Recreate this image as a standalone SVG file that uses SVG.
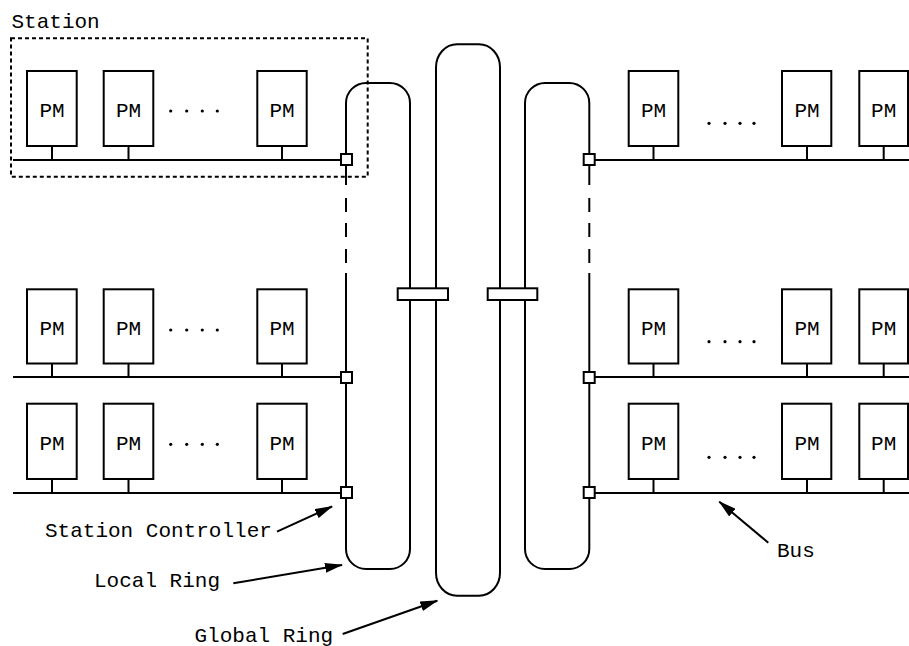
<svg xmlns="http://www.w3.org/2000/svg" width="909" height="646" viewBox="0 0 909 646">
<style>
.pm{fill:#fff;stroke:#000;stroke-width:2}
.ln{fill:none;stroke:#000;stroke-width:2}
.sq{fill:#fff;stroke:#000;stroke-width:2}
.t{font-family:"Liberation Mono","Courier New",monospace;font-size:21px;fill:#000}
.c{text-anchor:middle}
.dot{fill:#000}
</style>
<defs>
<marker id="ah" viewBox="0 0 18 10" refX="17" refY="5" markerWidth="18" markerHeight="10" markerUnits="userSpaceOnUse" orient="auto">
<path d="M0,0 L18,5 L0,10 z" fill="#000"/>
</marker>
</defs>
<rect width="909" height="646" fill="#fff"/>

<g id="station">
<rect x="11" y="38.3" width="356.7" height="138.4" fill="none" stroke="#000" stroke-width="2" stroke-dasharray="4,3"/>
<text class="t" x="11.5" y="28">Station</text>
</g>

<g id="connectors">
<!-- buses -->
<line class="ln" x1="13" y1="160" x2="341" y2="160"/>
<line class="ln" x1="13" y1="377" x2="341" y2="377"/>
<line class="ln" x1="13" y1="493" x2="341" y2="493"/>
<line class="ln" x1="595" y1="160" x2="909" y2="160"/>
<line class="ln" x1="595" y1="377" x2="909" y2="377"/>
<line class="ln" x1="595" y1="493" x2="909" y2="493"/>
<!-- stubs left -->
<path class="ln" d="M52,146 V160 M128.5,146 V160 M282,146 V160 M52,363.5 V377 M128.5,363.5 V377 M282,363.5 V377 M52,479 V493 M128.5,479 V493 M282,479 V493"/>
<!-- stubs right -->
<path class="ln" d="M653.5,146 V160 M807,146 V160 M883.7,146 V160 M653.5,363.5 V377 M807,363.5 V377 M883.7,363.5 V377 M653.5,479 V493 M807,479 V493 M883.7,479 V493"/>
<!-- left local ring -->
<path class="ln" d="M346,185 L346,103 A20,20 0 0 1 366,83 L390,83 A20,20 0 0 1 410,103 L410,549 A20,20 0 0 1 390,569 L366,569 A20,20 0 0 1 346,549 L346,273"/>
<path class="ln" d="M346,198 V212 M346,223 V237 M346,249 V263"/>
<!-- global ring -->
<rect class="ln" x="436" y="44.3" width="64" height="551.4" rx="21" ry="23"/>
<!-- right local ring -->
<path class="ln" d="M589.3,185 L589.3,103 A20,20 0 0 0 569.3,83 L545,83 A20,20 0 0 0 525,103 L525,549 A20,20 0 0 0 545,569 L569.3,569 A20,20 0 0 0 589.3,549 L589.3,273"/>
<path class="ln" d="M589.3,198 V212 M589.3,223 V237 M589.3,249 V263"/>
<!-- arrows -->
<line class="ln" x1="277" y1="531.7" x2="332" y2="506.5" marker-end="url(#ah)"/>
<line class="ln" x1="233.3" y1="583.3" x2="342" y2="565" marker-end="url(#ah)"/>
<line class="ln" x1="342.7" y1="634" x2="437.3" y2="600.7" marker-end="url(#ah)"/>
<line class="ln" x1="768.3" y1="542.7" x2="719.3" y2="501.7" marker-end="url(#ah)"/>
</g>

<g id="bridges">
<rect id="bridge-left" class="sq" x="397.7" y="288.3" width="50.3" height="11.7"/>
<rect id="bridge-right" class="sq" x="487.7" y="288.3" width="49.6" height="11.7"/>
</g>

<g id="controllers">
<rect id="sc-l1" class="sq" x="341" y="154" width="11" height="11"/>
<rect id="sc-l2" class="sq" x="341" y="372" width="11" height="11"/>
<rect id="sc-l3" class="sq" x="341" y="487" width="11" height="11"/>
<rect id="sc-r1" class="sq" x="583.7" y="154" width="11" height="11"/>
<rect id="sc-r2" class="sq" x="583.7" y="372" width="11" height="11"/>
<rect id="sc-r3" class="sq" x="583.7" y="487" width="11" height="11"/>
</g>

<g id="pm-l1a"><rect class="pm" x="27" y="71" width="49.7" height="75"/><text class="t c" x="52" y="117.3">PM</text></g>
<g id="pm-l1b"><rect class="pm" x="103.7" y="71" width="49.6" height="75"/><text class="t c" x="128.5" y="117.3">PM</text></g>
<g id="pm-l1c"><rect class="pm" x="257.3" y="71" width="49.4" height="75"/><text class="t c" x="282" y="117.3">PM</text></g>
<g id="pm-l2a"><rect class="pm" x="27" y="289.3" width="49.7" height="74.2"/><text class="t c" x="52" y="335">PM</text></g>
<g id="pm-l2b"><rect class="pm" x="103.7" y="289.3" width="49.6" height="74.2"/><text class="t c" x="128.5" y="335">PM</text></g>
<g id="pm-l2c"><rect class="pm" x="257.3" y="289.3" width="49.4" height="74.2"/><text class="t c" x="282" y="335">PM</text></g>
<g id="pm-l3a"><rect class="pm" x="27" y="403.7" width="49.7" height="75.3"/><text class="t c" x="52" y="450">PM</text></g>
<g id="pm-l3b"><rect class="pm" x="103.7" y="403.7" width="49.6" height="75.3"/><text class="t c" x="128.5" y="450">PM</text></g>
<g id="pm-l3c"><rect class="pm" x="257.3" y="403.7" width="49.4" height="75.3"/><text class="t c" x="282" y="450">PM</text></g>

<g id="pm-r1a"><rect class="pm" x="628.7" y="71" width="49.6" height="75"/><text class="t c" x="653.5" y="117.3">PM</text></g>
<g id="pm-r1b"><rect class="pm" x="782" y="71" width="49.3" height="75"/><text class="t c" x="807" y="117.3">PM</text></g>
<g id="pm-r1c"><rect class="pm" x="859.3" y="71" width="48.7" height="75"/><text class="t c" x="883.7" y="117.3">PM</text></g>
<g id="pm-r2a"><rect class="pm" x="628.7" y="289.3" width="49.6" height="74.2"/><text class="t c" x="653.5" y="335">PM</text></g>
<g id="pm-r2b"><rect class="pm" x="782" y="289.3" width="49.3" height="74.2"/><text class="t c" x="807" y="335">PM</text></g>
<g id="pm-r2c"><rect class="pm" x="859.3" y="289.3" width="48.7" height="74.2"/><text class="t c" x="883.7" y="335">PM</text></g>
<g id="pm-r3a"><rect class="pm" x="628.7" y="403.7" width="49.6" height="75.3"/><text class="t c" x="653.5" y="450">PM</text></g>
<g id="pm-r3b"><rect class="pm" x="782" y="403.7" width="49.3" height="75.3"/><text class="t c" x="807" y="450">PM</text></g>
<g id="pm-r3c"><rect class="pm" x="859.3" y="403.7" width="48.7" height="75.3"/><text class="t c" x="883.7" y="450">PM</text></g>

<g id="ellipses">
<circle class="dot" cx="170.7" cy="111" r="1.6"/><circle class="dot" cx="186.7" cy="111" r="1.6"/><circle class="dot" cx="202.3" cy="111" r="1.6"/><circle class="dot" cx="217.3" cy="111" r="1.6"/>
<circle class="dot" cx="170.7" cy="330" r="1.6"/><circle class="dot" cx="186.7" cy="330" r="1.6"/><circle class="dot" cx="202.3" cy="330" r="1.6"/><circle class="dot" cx="217.3" cy="330" r="1.6"/>
<circle class="dot" cx="170.7" cy="444.3" r="1.6"/><circle class="dot" cx="186.7" cy="444.3" r="1.6"/><circle class="dot" cx="202.3" cy="444.3" r="1.6"/><circle class="dot" cx="217.3" cy="444.3" r="1.6"/>
<circle class="dot" cx="709" cy="123.3" r="1.6"/><circle class="dot" cx="725" cy="123.3" r="1.6"/><circle class="dot" cx="740" cy="123.3" r="1.6"/><circle class="dot" cx="754" cy="123.3" r="1.6"/>
<circle class="dot" cx="709" cy="341.7" r="1.6"/><circle class="dot" cx="725" cy="341.7" r="1.6"/><circle class="dot" cx="740" cy="341.7" r="1.6"/><circle class="dot" cx="754" cy="341.7" r="1.6"/>
<circle class="dot" cx="709" cy="457.3" r="1.6"/><circle class="dot" cx="725" cy="457.3" r="1.6"/><circle class="dot" cx="740" cy="457.3" r="1.6"/><circle class="dot" cx="754" cy="457.3" r="1.6"/>
</g>

<g id="labels">
<text class="t" x="45" y="537.3">Station Controller</text>
<text class="t" x="94" y="587.3">Local Ring</text>
<text class="t" x="194.5" y="642">Global Ring</text>
<text class="t" x="777" y="556.7">Bus</text>
</g>
</svg>
